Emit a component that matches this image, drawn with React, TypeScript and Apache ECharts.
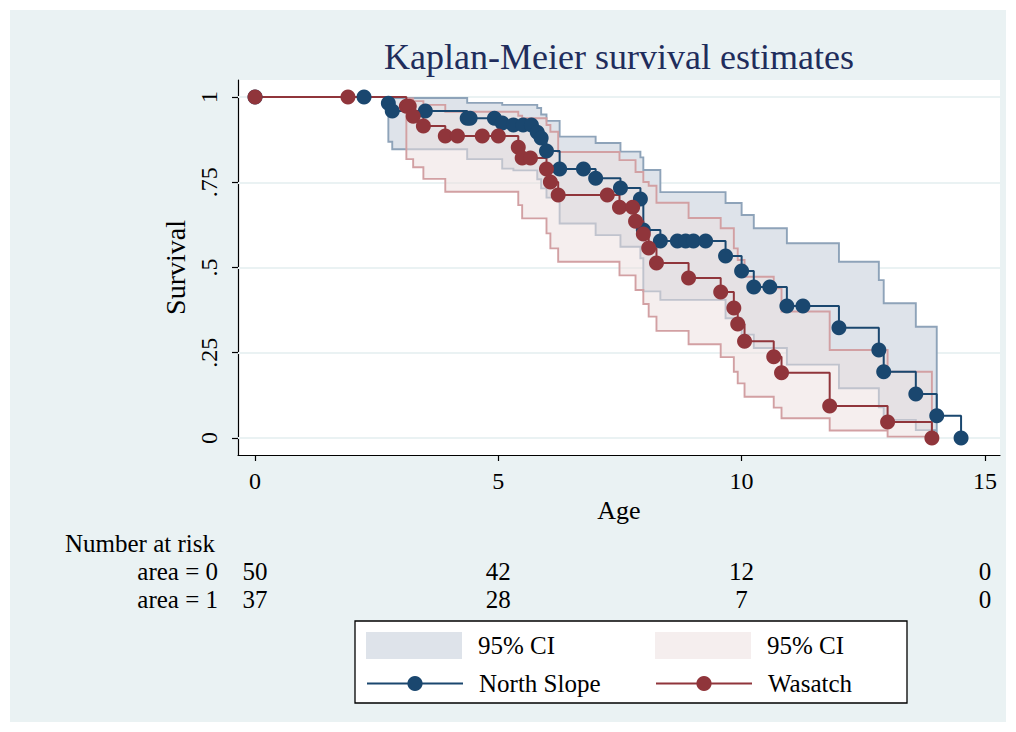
import React, { useEffect, useRef } from 'react';
import * as echarts from 'echarts';

const FONT = '"Liberation Serif", "Times New Roman", Times, serif';

// Axis ticks
const xTicks = [0, 5, 10, 15];
const yTicks = [0, 0.25, 0.5, 0.75, 1];
const yTickLabels = ['0', '.25', '.5', '.75', '1'];

// Kaplan-Meier estimate, North Slope (area = 0)
const timesNS = [0, 2.24, 2.74, 2.82, 3.5, 4.36, 4.42, 4.92, 5.08, 5.31, 5.51, 5.68, 5.8, 5.88, 5.99, 6.26, 6.75, 7.0, 7.51, 7.92, 7.98, 8.33, 8.68, 8.85, 9.01, 9.26, 9.67, 10.0, 10.25, 10.58, 10.93, 11.26, 12.0, 12.82, 12.92, 13.58, 14.01, 14.51];
const survNS = [1, 1, 0.982, 0.959, 0.959, 0.938, 0.938, 0.938, 0.924, 0.918, 0.918, 0.918, 0.897, 0.88, 0.842, 0.789, 0.789, 0.762, 0.733, 0.701, 0.61, 0.578, 0.578, 0.578, 0.578, 0.578, 0.534, 0.49, 0.443, 0.443, 0.387, 0.387, 0.323, 0.258, 0.194, 0.129, 0.065, 0];

// Kaplan-Meier estimate, Wasatch (area = 1)
const timesW = [0, 1.91, 3.11, 3.17, 3.25, 3.46, 3.91, 4.16, 4.67, 5.0, 5.41, 5.49, 5.66, 5.99, 6.07, 6.23, 7.24, 7.49, 7.76, 7.82, 7.98, 8.09, 8.25, 8.91, 9.57, 9.84, 9.92, 10.06, 10.66, 10.82, 11.81, 13.0, 13.91];
const survW = [1, 1, 0.973, 0.973, 0.944, 0.915, 0.886, 0.886, 0.886, 0.886, 0.853, 0.821, 0.821, 0.789, 0.751, 0.713, 0.713, 0.677, 0.677, 0.636, 0.598, 0.557, 0.513, 0.469, 0.428, 0.381, 0.334, 0.284, 0.238, 0.191, 0.094, 0.047, 0];

// 95% confidence bands, North Slope
const ciTimesNS = [2.74, 2.82, 4.36, 5.08, 5.31, 5.8, 5.88, 5.99, 6.26, 7.0, 7.51, 7.92, 7.98, 8.33, 9.67, 10.0, 10.25, 10.93, 12.0, 12.82, 12.92, 13.58, 14.01];
const ciUpperNS = [0.998, 0.997, 0.983, 0.977, 0.977, 0.968, 0.949, 0.93, 0.884, 0.865, 0.84, 0.823, 0.786, 0.721, 0.689, 0.654, 0.615, 0.571, 0.517, 0.463, 0.395, 0.326, 0.25];
const ciLowerNS = [0.869, 0.847, 0.818, 0.79, 0.785, 0.759, 0.732, 0.705, 0.629, 0.595, 0.561, 0.527, 0.43, 0.405, 0.351, 0.303, 0.264, 0.215, 0.146, 0.09, 0.053, 0.023, 0.005];

// 95% confidence bands, Wasatch
const ciTimesW = [3.11, 3.25, 3.46, 3.91, 5.41, 5.49, 5.99, 6.07, 6.23, 7.49, 7.82, 7.98, 8.09, 8.25, 8.91, 9.57, 9.84, 9.92, 10.06, 10.66, 10.82, 11.81, 13.0, 13.91];
const ciUpperW = [0.996, 0.988, 0.977, 0.957, 0.945, 0.938, 0.918, 0.898, 0.839, 0.815, 0.78, 0.751, 0.74, 0.69, 0.645, 0.615, 0.556, 0.522, 0.473, 0.439, 0.371, 0.258, 0.194, 0.194];
const ciLowerW = [0.818, 0.794, 0.76, 0.722, 0.683, 0.644, 0.6, 0.556, 0.517, 0.477, 0.434, 0.393, 0.356, 0.314, 0.275, 0.237, 0.194, 0.16, 0.121, 0.089, 0.058, 0.022, 0.004, 0.004];

// Number at risk table
const riskTimes = [0, 5, 10, 15];
const riskNS = [50, 42, 12, 0];
const riskW = [37, 28, 7, 0];

const NAVY = '#1a476f';
const MAROON = '#90353b';
const CI_FILL_NS = '#dee3ea';
const CI_LINE_NS = '#8ea3b9';
const CI_FILL_W = 'rgba(236,222,222,0.53)';
const CI_LINE_W = '#d2a0a3';

const X_MIN = -0.35;
const X_MAX = 15.31;
const Y_MIN = -0.05;
const Y_MAX = 1.05;

function bandRenderer(ts: number[], lo: number[], hi: number[], fill: string, stroke: string) {
  return (params: any, api: any) => {
    if (params.dataIndex !== 0) return null;
    const up: number[][] = [];
    const dn: number[][] = [];
    for (let i = 0; i < ts.length; i++) {
      up.push(api.coord([ts[i], hi[i]]));
      dn.push(api.coord([ts[i], lo[i]]));
      if (i < ts.length - 1) {
        up.push(api.coord([ts[i + 1], hi[i]]));
        dn.push(api.coord([ts[i + 1], lo[i]]));
      }
    }
    const pts = up.concat(dn.reverse());
    return {
      type: 'polygon',
      shape: { points: pts },
      style: { fill, stroke, lineWidth: 1.9, lineJoin: 'miter' },
    };
  };
}

function riskAxis(offset: number, values: number[]) {
  return {
    type: 'value',
    gridIndex: 0,
    position: 'bottom',
    offset,
    min: X_MIN,
    max: X_MAX,
    axisLine: { show: false },
    axisTick: { show: false },
    splitLine: { show: false },
    axisLabel: {
      customValues: riskTimes,
      margin: 0,
      formatter: (v: number) => {
        const i = riskTimes.indexOf(v);
        return i >= 0 ? String(values[i]) : '';
      },
      fontFamily: FONT,
      fontSize: 25,
      color: '#000',
    },
  };
}

function lineLegend(name: string, left: number, top: number, text: string, itemHeight: number, icon?: string, color?: string) {
  const d: any = { name };
  if (icon) d.icon = icon;
  if (color) d.itemStyle = { color, borderWidth: 0 };
  return {
    data: [d],
    left,
    top,
    padding: 0,
    itemWidth: 96,
    itemHeight,
    itemGap: 0,
    selectedMode: false,
    formatter: () => text,
    textStyle: { fontFamily: FONT, fontSize: 25, color: '#000', padding: [0, 0, 0, 11] },
  };
}

export default function App() {
  const ref = useRef<HTMLDivElement>(null);
  useEffect(() => {
    const chart = echarts.init(ref.current!, null, { renderer: 'svg' });
    const option: any = {
      animation: false,
      backgroundColor: '#ffffff',
      title: {
        text: 'Kaplan-Meier survival estimates',
        left: 619,
        top: 39,
        textAlign: 'center',
        padding: 0,
        textStyle: { fontFamily: FONT, fontSize: 36, fontWeight: 'normal', color: '#1f2d5c' },
      },
      grid: {
        left: 238,
        right: 16,
        top: 80,
        bottom: 277,
        show: true,
        backgroundColor: '#ffffff',
        borderWidth: 0,
      },
      xAxis: [
        {
          type: 'value',
          gridIndex: 0,
          position: 'bottom',
          min: X_MIN,
          max: X_MAX,
          name: 'Age',
          nameLocation: 'middle',
          nameGap: 40,
          nameTextStyle: { fontFamily: FONT, fontSize: 26, color: '#000' },
          axisLine: { show: true, onZero: false, lineStyle: { color: '#000', width: 1.2 } },
          axisTick: { show: true, length: 6, customValues: xTicks, lineStyle: { color: '#000', width: 1.2 } },
          axisLabel: {
            customValues: xTicks,
            margin: 14,
            formatter: (v: number) => String(v),
            fontFamily: FONT,
            fontSize: 24,
            color: '#000',
          },
          splitLine: { show: false },
        },
        riskAxis(104, riskNS),
        riskAxis(132, riskW),
      ],
      yAxis: {
        type: 'value',
        min: Y_MIN,
        max: Y_MAX,
        name: 'Survival',
        nameLocation: 'middle',
        nameGap: 48,
        nameTextStyle: { fontFamily: FONT, fontSize: 28, color: '#000' },
        axisLine: { show: true, onZero: false, lineStyle: { color: '#000', width: 1.2 } },
        axisTick: { show: true, length: 6, customValues: yTicks, lineStyle: { color: '#000', width: 1.2 } },
        axisLabel: {
          customValues: yTicks,
          rotate: 90,
          margin: 17,
          formatter: (v: number) => {
            const i = yTicks.indexOf(v);
            return i >= 0 ? yTickLabels[i] : '';
          },
          fontFamily: FONT,
          fontSize: 24,
          color: '#000',
        },
        splitLine: { show: false },
      },
      legend: [
        lineLegend('North Slope 95% CI', 366, 632, '95% CI', 27, 'rect', CI_FILL_NS),
        lineLegend('Wasatch 95% CI', 655, 632, '95% CI', 27, 'rect', CI_FILL_W),
        lineLegend('North Slope', 366, 671, 'North Slope', 19),
        lineLegend('Wasatch', 655, 671, 'Wasatch', 19),
      ],
      graphic: [
        {
          type: 'rect',
          z: -10,
          shape: { x: 10, y: 10, width: 996, height: 712 },
          style: { fill: '#eaf2f3' },
          silent: true,
        },
        {
          type: 'rect',
          z: 1,
          shape: { x: 355, y: 621, width: 552, height: 82 },
          style: { fill: '#ffffff', stroke: '#000', lineWidth: 1.3 },
          silent: true,
        },
        {
          type: 'text',
          x: 65,
          y: 543,
          style: { text: 'Number at risk', fontFamily: FONT, fontSize: 25, fill: '#000', textAlign: 'left', textVerticalAlign: 'middle' },
        },
        {
          type: 'text',
          x: 218,
          y: 571.5,
          style: { text: 'area = 0', fontFamily: FONT, fontSize: 25, fill: '#000', textAlign: 'right', textVerticalAlign: 'middle' },
        },
        {
          type: 'text',
          x: 218,
          y: 599.5,
          style: { text: 'area = 1', fontFamily: FONT, fontSize: 25, fill: '#000', textAlign: 'right', textVerticalAlign: 'middle' },
        },
      ],
      series: [
        {
          type: 'line',
          name: 'grid',
          data: [],
          silent: true,
          z: 1,
          markLine: {
            silent: true,
            z: 1,
            symbol: ['none', 'none'],
            label: { show: false },
            lineStyle: { color: '#eaf2f3', width: 2, type: 'solid' },
            emphasis: { disabled: true },
            data: yTicks.map((v) => ({ yAxis: v })),
          },
        },
        {
          type: 'custom',
          name: 'North Slope 95% CI',
          z: 2,
          silent: true,
          itemStyle: { color: CI_FILL_NS },
          encode: { x: 0, y: [1, 2] },
          data: ciTimesNS.map((t, i) => [t, ciLowerNS[i], ciUpperNS[i]]),
          renderItem: bandRenderer(ciTimesNS, ciLowerNS, ciUpperNS, CI_FILL_NS, CI_LINE_NS),
        },
        {
          type: 'custom',
          name: 'Wasatch 95% CI',
          z: 3,
          silent: true,
          itemStyle: { color: CI_FILL_W },
          encode: { x: 0, y: [1, 2] },
          data: ciTimesW.map((t, i) => [t, ciLowerW[i], ciUpperW[i]]),
          renderItem: bandRenderer(ciTimesW, ciLowerW, ciUpperW, CI_FILL_W, CI_LINE_W),
        },
        {
          type: 'line',
          name: 'North Slope',
          z: 4,
          step: 'end',
          showSymbol: false,
          symbol: 'circle',
          symbolSize: 15,
          itemStyle: { color: NAVY },
          lineStyle: { color: NAVY, width: 2 },
          data: timesNS.map((t, i) => [t, survNS[i]]),
        },
        {
          type: 'line',
          name: 'Wasatch',
          z: 5,
          step: 'end',
          showSymbol: false,
          symbol: 'circle',
          symbolSize: 15,
          itemStyle: { color: MAROON },
          lineStyle: { color: MAROON, width: 2 },
          data: timesW.map((t, i) => [t, survW[i]]),
        },
        {
          type: 'scatter',
          name: 'North Slope markers',
          z: 6,
          symbol: 'circle',
          symbolSize: 15,
          itemStyle: { color: NAVY, opacity: 1 },
          data: timesNS.map((t, i) => [t, survNS[i]]),
        },
        {
          type: 'scatter',
          name: 'Wasatch markers',
          z: 7,
          symbol: 'circle',
          symbolSize: 15,
          itemStyle: { color: MAROON, opacity: 1 },
          data: timesW.map((t, i) => [t, survW[i]]),
        },
      ],
    };
    chart.setOption(option);
    return () => chart.dispose();
  }, []);
  return <div ref={ref} style={{ position: 'fixed', left: 0, top: 0, width: 1016, height: 732 }} />;
}
